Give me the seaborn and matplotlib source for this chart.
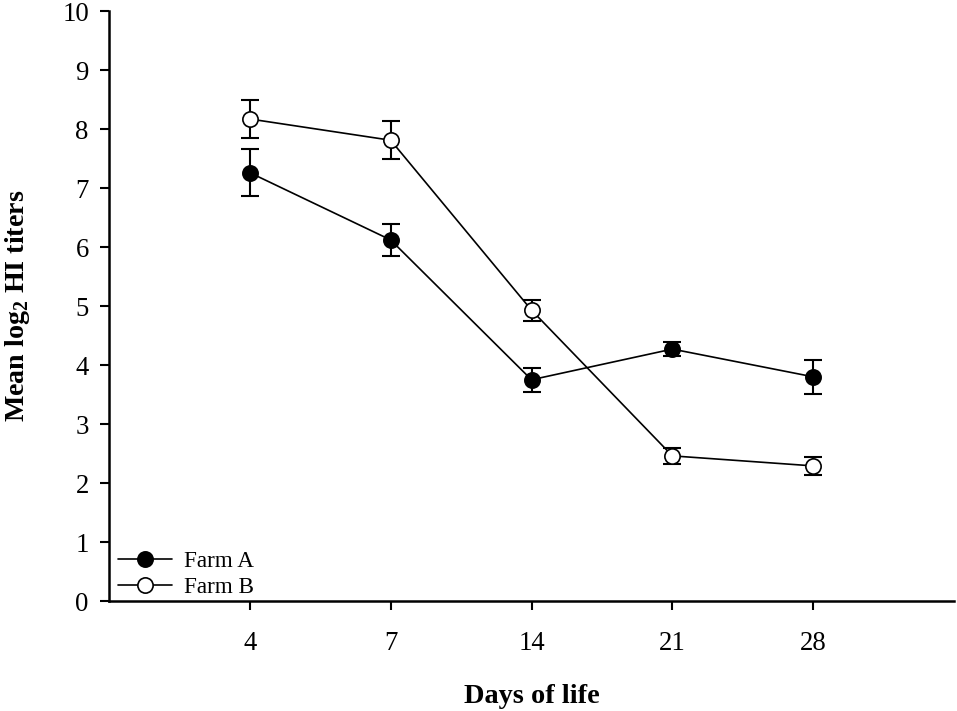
import numpy as np
import pandas as pd
import matplotlib
matplotlib.use("Agg")
import matplotlib.pyplot as plt
import seaborn as sns

days = ["4", "7", "14", "21", "28"]
farm_a_mean = [7.26, 6.12, 3.75, 4.27, 3.80]
farm_a_err = [0.40, 0.27, 0.20, 0.12, 0.29]
farm_b_mean = [8.17, 7.81, 4.93, 2.46, 2.29]
farm_b_err = [0.33, 0.32, 0.18, 0.135, 0.155]

sns.set_theme(style="ticks")
plt.rcParams["font.family"] = ["Liberation Serif", "DejaVu Serif"]
plt.rcParams["mathtext.fontset"] = "custom"
plt.rcParams["mathtext.rm"] = "Liberation Serif"
plt.rcParams["mathtext.bf"] = "Liberation Serif:bold"
plt.rcParams["text.color"] = "black"
plt.rcParams["axes.labelcolor"] = "black"
plt.rcParams["xtick.color"] = "black"
plt.rcParams["ytick.color"] = "black"

pos = np.arange(1, len(days) + 1)
df = pd.DataFrame({
    "pos": np.concatenate([pos, pos]),
    "mean": farm_a_mean + farm_b_mean,
    "err": farm_a_err + farm_b_err,
    "farm": ["Farm A"] * len(days) + ["Farm B"] * len(days),
})

fig = plt.figure(figsize=(9.57, 7.11), dpi=100)
ax = fig.add_axes([0.1139, 0.1547, 0.8830, 0.8298])

faces = {"Farm A": "black", "Farm B": "white"}
for farm, sub in df.groupby("farm"):
    ax.errorbar(sub["pos"], sub["mean"], yerr=sub["err"], fmt="none",
                ecolor="black", elinewidth=1.5, capsize=6.5, capthick=1.5, zorder=1)
    sns.lineplot(data=sub, x="pos", y="mean", ax=ax, color="black", linewidth=1.2,
                 marker="o", markersize=11, markerfacecolor=faces[farm],
                 markeredgecolor="black", markeredgewidth=1.2, label=farm, zorder=3)

ax.set_xlim(0, 6)
ax.set_ylim(0, 10)
ax.set_xticks(pos)
ax.set_xticklabels(days)
ax.set_yticks(range(0, 11))
ax.tick_params(axis="both", labelsize=19.3, width=1.5, length=6.5, direction="out")
ax.tick_params(axis="x", pad=15)
ax.tick_params(axis="y", pad=8)
sns.despine(ax=ax)
for s in ["left", "bottom"]:
    ax.spines[s].set_linewidth(1.8)
    ax.spines[s].set_color("black")

ax.set_xlabel("Days of life", fontsize=20.4, fontweight="bold", labelpad=20)
ax.set_ylabel(r"Mean log$_\mathbf{2}$ HI titers", fontsize=20.2, fontweight="bold", labelpad=22)

leg = ax.legend(loc="lower left", frameon=False, fontsize=16.7, handlelength=2.3,
                handletextpad=0.55, borderaxespad=0.0, labelspacing=0.2,
                bbox_to_anchor=(0.0, -0.01))

fig.savefig("out.png", dpi=100, facecolor="white")
